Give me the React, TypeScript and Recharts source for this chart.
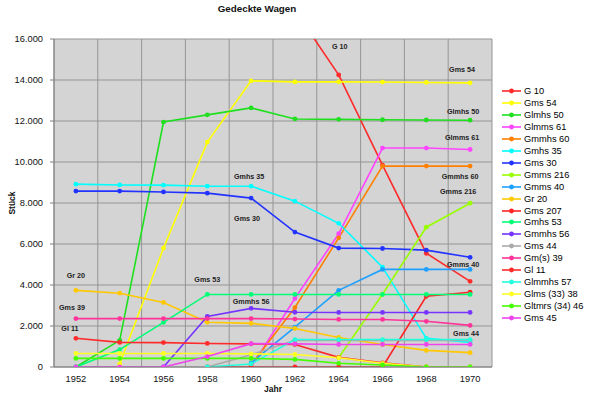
import React from 'react';
import { LineChart, Line, XAxis, YAxis, CartesianGrid, Legend, LabelList, Label } from 'recharts';

const years = [1952, 1954, 1956, 1958, 1960, 1962, 1964, 1966, 1968, 1970];
const yTicks = [0, 2000, 4000, 6000, 8000, 10000, 12000, 14000, 16000];

const g10 = [null, null, null, null, null, 17400, 14250, 9850, 5550, 4180];
const gms54 = [null, 150, 5800, 10970, 13960, 13910, 13910, 13900, 13880, 13860];
const glmhs50 = [0, 1300, 11950, 12300, 12640, 12100, 12080, 12060, 12050, 12040];
const glmms61 = [null, null, null, null, 0, 3340, 6500, 10680, 10680, 10610];
const gmmhs60 = [null, null, null, null, 100, 2900, 6300, 9800, 9800, 9800];
const gmhs35 = [8920, 8880, 8870, 8820, 8820, 8090, 7010, 4870, 1400, 1200];
const gms30 = [8580, 8580, 8540, 8480, 8240, 6580, 5800, 5780, 5700, 5350];
const gmms216 = [null, null, null, null, null, null, 450, 3550, 6820, 7990];
const gmms40 = [null, null, null, null, 200, 1950, 3740, 4760, 4760, 4760];
const gr20 = [3740, 3600, 3150, 2180, 2130, 1880, 1440, 1100, 810, 700];
const gms207 = [null, null, null, 0, 0, 0, 0, 0, 3450, 3650];
const gmhs53 = [0, 850, 2180, 3540, 3540, 3540, 3540, 3540, 3540, 3540];
const gmmhs56 = [null, null, 0, 2470, 2860, 2670, 2660, 2660, 2660, 2660];
const gms44 = [null, null, null, 0, 600, 1300, 1300, 1300, 1300, 1300];
const gms39 = [2360, 2360, 2360, 2360, 2360, 2340, 2320, 2320, 2230, 2030];
const gl11 = [1400, 1200, 1190, 1150, 1130, 1100, 470, 200, 0, 0];
const glmmhs57 = [null, null, null, 0, 150, 1340, 1340, 1340, 1340, 1340];
const glms3338 = [660, 660, 660, 660, 640, 610, 450, 180, 0, 0];
const gltmrs3446 = [420, 420, 420, 420, 420, 370, 180, 100, 0, 0];
const gms45 = [0, 0, 0, 510, 1140, 1130, 1100, 1100, 1100, 1100];

const seriesNames = [
  'G 10', 'Gms 54', 'Glmhs 50', 'Glmms 61', 'Gmmhs 60', 'Gmhs 35', 'Gms 30', 'Gmms 216',
  'Gmms 40', 'Gr 20', 'Gms 207', 'Gmhs 53', 'Gmmhs 56', 'Gms 44', 'Gm(s) 39', 'Gl 11',
  'Glmmhs 57', 'Glms (33) 38', 'Gltmrs (34) 46', 'Gms 45',
];
const seriesValues = [
  g10, gms54, glmhs50, glmms61, gmmhs60, gmhs35, gms30, gmms216,
  gmms40, gr20, gms207, gmhs53, gmmhs56, gms44, gms39, gl11,
  glmmhs57, glms3338, gltmrs3446, gms45,
];
const seriesColors = [
  '#ff2a2a', '#ffff00', '#1ee01e', '#ff44ff', '#ff8000', '#00ffff', '#2233ff', '#99ff00',
  '#1ea0ff', '#ffc800', '#ff2424', '#00ff77', '#7733ff', '#aaaaaa', '#ff3399', '#ff2a2a',
  '#22ffdd', '#ffff22', '#44ff00', '#ee44ee',
];

// in-chart annotations: series index, text, point index, offset (px)
const annotations = [
  { s: 0, text: 'G 10', at: 6, dx: 1, dy: -28 },
  { s: 1, text: 'Gms 54', at: 9, dx: -8, dy: -13 },
  { s: 2, text: 'Glmhs 50', at: 9, dx: -7, dy: -9 },
  { s: 3, text: 'Glmms 61', at: 9, dx: -8, dy: -12 },
  { s: 4, text: 'Gmmhs 60', at: 9, dx: -10, dy: 10 },
  { s: 7, text: 'Gmms 216', at: 9, dx: -12, dy: -12 },
  { s: 5, text: 'Gmhs 35', at: 4, dx: -2, dy: -10 },
  { s: 6, text: 'Gms 30', at: 4, dx: -4, dy: 20 },
  { s: 8, text: 'Gmms 40', at: 9, dx: -7, dy: -5 },
  { s: 11, text: 'Gms 53', at: 3, dx: 0, dy: -15 },
  { s: 12, text: 'Gmmhs 56', at: 4, dx: 0, dy: -7 },
  { s: 9, text: 'Gr 20', at: 0, dx: 0, dy: -15 },
  { s: 14, text: 'Gms 39', at: 0, dx: -4, dy: -11 },
  { s: 15, text: 'Gl 11', at: 0, dx: -6, dy: -10 },
  { s: 13, text: 'Gms 44', at: 9, dx: -4, dy: -7 },
];

const FONT = '"Liberation Sans", Arial, sans-serif';

const data = years.map((year, i) => {
  const row: any = { year };
  seriesValues.forEach((vals, s) => {
    row['s' + s] = vals[i];
  });
  return row;
});

const fmt = (v: number) => String(v).replace(/\B(?=(\d{3})+(?!\d))/g, '.');

const makeAnno = (cfg: any) => (props: any) => {
  if (props.index !== cfg.at || props.x == null || props.y == null) return null;
  return (
    <text
      x={props.x + cfg.dx}
      y={props.y + cfg.dy}
      textAnchor="middle"
      dominantBaseline="central"
      fontSize={7.2}
      fontWeight="bold"
      fill="#222"
      fontFamily={FONT}
    >
      {cfg.text}
    </text>
  );
};

const LegendContent = (props: any) => {
  const raw = props.payload && props.payload.length
    ? props.payload
    : seriesNames.map((n, i) => ({ value: n, color: seriesColors[i] }));
  const items = [...raw].sort(
    (a: any, b: any) => seriesNames.indexOf(a.value) - seriesNames.indexOf(b.value)
  );
  return (
    <div style={{ fontFamily: FONT, fontSize: 9.3, color: '#000' }}>
      {items.map((it: any, i: number) => (
        <div key={i} style={{ height: 11.96, display: 'flex', alignItems: 'center', whiteSpace: 'nowrap' }}>
          <svg width={23} height={12} style={{ display: 'block', flex: 'none' }}>
            <line x1={2} y1={6} x2={21} y2={6} stroke={it.color} strokeWidth={1.6} />
            <circle cx={11.5} cy={6} r={2.4} fill={it.color} />
          </svg>
          <span style={{ marginLeft: 1 }}>{it.value}</span>
        </div>
      ))}
    </div>
  );
};

export default function App() {
  return (
    <div style={{ position: 'absolute', left: 0, top: 0, width: 600, height: 399, background: '#fff' }}>
      <div
        style={{
          position: 'absolute', left: 257, top: 3, transform: 'translateX(-50%)',
          fontFamily: FONT, fontWeight: 'bold', fontSize: 9.8, color: '#111', whiteSpace: 'nowrap',
        }}
      >
        Gedeckte Wagen
      </div>
      <LineChart width={600} height={399} data={data} margin={{ top: 39, right: 8, left: 0, bottom: 0 }}>
        <CartesianGrid
          fill="#d4d4d4"
          fillOpacity={1}
          stroke="#959595"
          strokeWidth={1}
          verticalCoordinatesGenerator={({ offset }: any) =>
            Array.from({ length: 11 }, (_, k) => offset.left + (offset.width * k) / 10)
          }
        />
        <XAxis
          type="number"
          dataKey="year"
          domain={[1951, 1971]}
          ticks={years}
          height={32}
          tickLine={false}
          axisLine={{ stroke: '#808080' }}
          tick={{ fontSize: 9.3, fill: '#111', fontFamily: FONT }}
        >
          <Label value="Jahr" position="insideBottom" offset={7} style={{ fontSize: 8.5, fontWeight: 'bold', fill: '#111', fontFamily: FONT }} />
        </XAxis>
        <YAxis
          type="number"
          domain={[0, 16000]}
          ticks={yTicks}
          allowDataOverflow
          width={54}
          tickSize={4}
          tickMargin={7}
          tickFormatter={fmt}
          axisLine={{ stroke: '#808080' }}
          tickLine={{ stroke: '#808080' }}
          tick={{ fontSize: 9.3, fill: '#111', fontFamily: FONT }}
        >
          <Label
            content={(p: any) => {
              const vb = p.viewBox || { x: 0, y: 39, height: 328 };
              const cx = vb.x + 12;
              const cy = vb.y + vb.height / 2;
              return (
                <text x={cx} y={cy} transform={`rotate(-90 ${cx} ${cy})`} textAnchor="middle" dominantBaseline="central"
                  fontSize={8.5} fontWeight="bold" fill="#111" fontFamily={FONT}>Stück</text>
              );
            }}
          />
        </YAxis>
        <Legend
          layout="vertical"
          align="right"
          verticalAlign="top"
          width={100}
          itemSorter={null as any}
          wrapperStyle={{ left: 500, top: 85, width: 100 }}
          content={<LegendContent />}
        />
        {seriesNames.map((name, s) => (
          <Line
            key={name}
            type="linear"
            dataKey={'s' + s}
            name={name}
            stroke={seriesColors[s]}
            strokeWidth={1.6}
            dot={{ r: 2.4, fill: seriesColors[s], stroke: seriesColors[s], strokeWidth: 0 }}
            activeDot={false}
            isAnimationActive={false}
          >
            {annotations.filter((a) => a.s === s).map((a, k) => (
              <LabelList key={k} dataKey={'s' + s} content={makeAnno(a)} />
            ))}
          </Line>
        ))}
      </LineChart>
    </div>
  );
}
